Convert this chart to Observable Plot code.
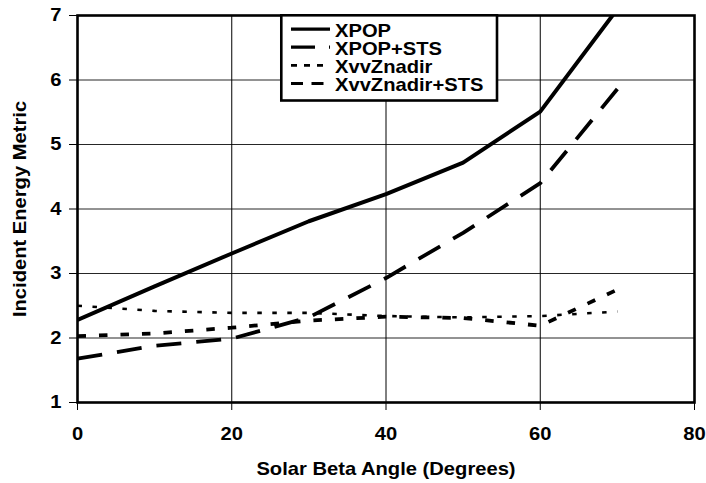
<!DOCTYPE html>
<html>
<head>
<meta charset="utf-8">
<script src="https://cdn.jsdelivr.net/npm/d3@7"></script>
<script src="https://cdn.jsdelivr.net/npm/@observablehq/plot@0.6"></script>
<style>
  body { margin: 0; background: #fff; }
  #wrap { position: relative; width: 706px; height: 483px; }
  #wrap > svg { position: absolute; left: 0; top: 0; }
</style>
</head>
<body>
<div id="wrap"></div>
<script>
// ---- data ----
const angles = [0, 10, 20, 30, 40, 50, 60, 70];
const xpop = [2.28, 2.80, 3.31, 3.81, 4.23, 4.72, 5.51, 7.10];
const xpopSts = [1.68, 1.88, 1.99, 2.32, 2.93, 3.63, 4.40, 5.86];
const xvvZnadir = [2.50, 2.42, 2.39, 2.39, 2.34, 2.32, 2.34, 2.41];
const xvvZnadirSts = [2.03, 2.07, 2.16, 2.27, 2.33, 2.31, 2.19, 2.75];
const seriesNames = ["XPOP", "XPOP+STS", "XvvZnadir", "XvvZnadir+STS"];
const xTicks = [0, 20, 40, 60, 80];
const yTicks = [1, 2, 3, 4, 5, 6, 7];
const xLabel = "Solar Beta Angle (Degrees)";
const yLabel = "Incident Energy Metric";

// ---- styling ----
const lineStyles = {
  "XPOP": {dash: null, legendDash: null, width: 4},
  "XPOP+STS": {dash: "25,15", legendDash: "24,14", width: 3.8},
  "XvvZnadir": {dash: "4.5,10.5", legendDash: "6,7", width: 2.6},
  "XvvZnadir+STS": {dash: "8.5,13", legendDash: "12,8.5", width: 3.8}
};
const FONT = "'Liberation Sans', Arial, Helvetica, sans-serif";
const STRETCH = 1.12;

const seriesValues = [xpop, xpopSts, xvvZnadir, xvvZnadirSts];
const seriesData = seriesNames.map((name, k) =>
  angles.map((a, i) => ({angle: a, value: seriesValues[k][i], series: name}))
);

const lineMarks = seriesData.map((rows, k) => {
  const st = lineStyles[seriesNames[k]];
  const opts = {x: "angle", y: "value", stroke: "#000", strokeWidth: st.width,
                strokeLinejoin: "miter", strokeLinecap: "butt", clip: true};
  if (st.dash) opts.strokeDasharray = st.dash;
  return Plot.line(rows, opts);
});

const chart = Plot.plot({
  width: 706,
  height: 483,
  marginLeft: 77,
  marginRight: 12,
  marginTop: 15,
  marginBottom: 81,
  x: {domain: [0, 80], ticks: xTicks, tickSize: 8, tickPadding: 17, label: null, tickFormat: d => String(d)},
  y: {domain: [1, 7], ticks: yTicks, tickSize: 8, tickPadding: 8, label: null, tickFormat: d => String(d)},
  style: {fontFamily: FONT, fontWeight: "bold", fontSize: "18px", color: "#000", background: "#fff"},
  marks: [
    Plot.gridX(xTicks.slice(1, -1), {stroke: "#000", strokeOpacity: 1, strokeWidth: 1}),
    Plot.gridY(yTicks.slice(1, -1), {stroke: "#000", strokeOpacity: 0.85, strokeWidth: 1}),
    ...lineMarks,
    Plot.frame({stroke: "#000", strokeWidth: 2.6}),
    Plot.text([xLabel], {text: d => d, frameAnchor: "bottom", textAnchor: "middle", lineAnchor: "middle",
                         dy: 67, fontSize: 18, fontWeight: "bold", fill: "#000"}),
    Plot.text([yLabel], {text: d => d, frameAnchor: "left", textAnchor: "middle", lineAnchor: "middle",
                         rotate: -90, dx: -57, fontSize: 18, fontWeight: "bold", fill: "#000"})
  ]
});

// slightly wider glyphs, as in the reference
chart.querySelectorAll("text").forEach(t => {
  const tr = t.getAttribute("transform");
  if (tr) {
    t.setAttribute("transform", tr + ` scale(${STRETCH},1)`);
  } else {
    const x = +t.getAttribute("x") || 0, y = +t.getAttribute("y") || 0;
    t.removeAttribute("x"); t.removeAttribute("y");
    t.setAttribute("transform", `translate(${x},${y}) scale(${STRETCH},1)`);
  }
});

const wrap = document.getElementById("wrap");
wrap.appendChild(chart);

// ---- legend overlay ----
const NS = "http://www.w3.org/2000/svg";
const leg = document.createElementNS(NS, "svg");
leg.setAttribute("width", 706);
leg.setAttribute("height", 483);
leg.style.pointerEvents = "none";
const box = document.createElementNS(NS, "rect");
box.setAttribute("x", 281.3); box.setAttribute("y", 15.3);
box.setAttribute("width", 215.7); box.setAttribute("height", 85.2);
box.setAttribute("fill", "#fff"); box.setAttribute("stroke", "#000"); box.setAttribute("stroke-width", 2.6);
leg.appendChild(box);
const baselines = [36.6, 54.7, 72.9, 91.0];
seriesNames.forEach((name, i) => {
  const st = lineStyles[name];
  const ln = document.createElementNS(NS, "line");
  ln.setAttribute("x1", 291); ln.setAttribute("x2", 330);
  ln.setAttribute("y1", baselines[i] - 7.5); ln.setAttribute("y2", baselines[i] - 7.5);
  ln.setAttribute("stroke", "#000"); ln.setAttribute("stroke-width", Math.min(st.width, 3.2));
  if (st.legendDash) ln.setAttribute("stroke-dasharray", st.legendDash);
  leg.appendChild(ln);
  const tx = document.createElementNS(NS, "text");
  tx.setAttribute("transform", `translate(335,${baselines[i]}) scale(${STRETCH},1)`);
  tx.setAttribute("font-family", FONT);
  tx.setAttribute("font-weight", "bold");
  tx.setAttribute("font-size", 18);
  tx.setAttribute("fill", "#000");
  tx.textContent = name;
  leg.appendChild(tx);
});
wrap.appendChild(leg);
</script>
</body>
</html>
